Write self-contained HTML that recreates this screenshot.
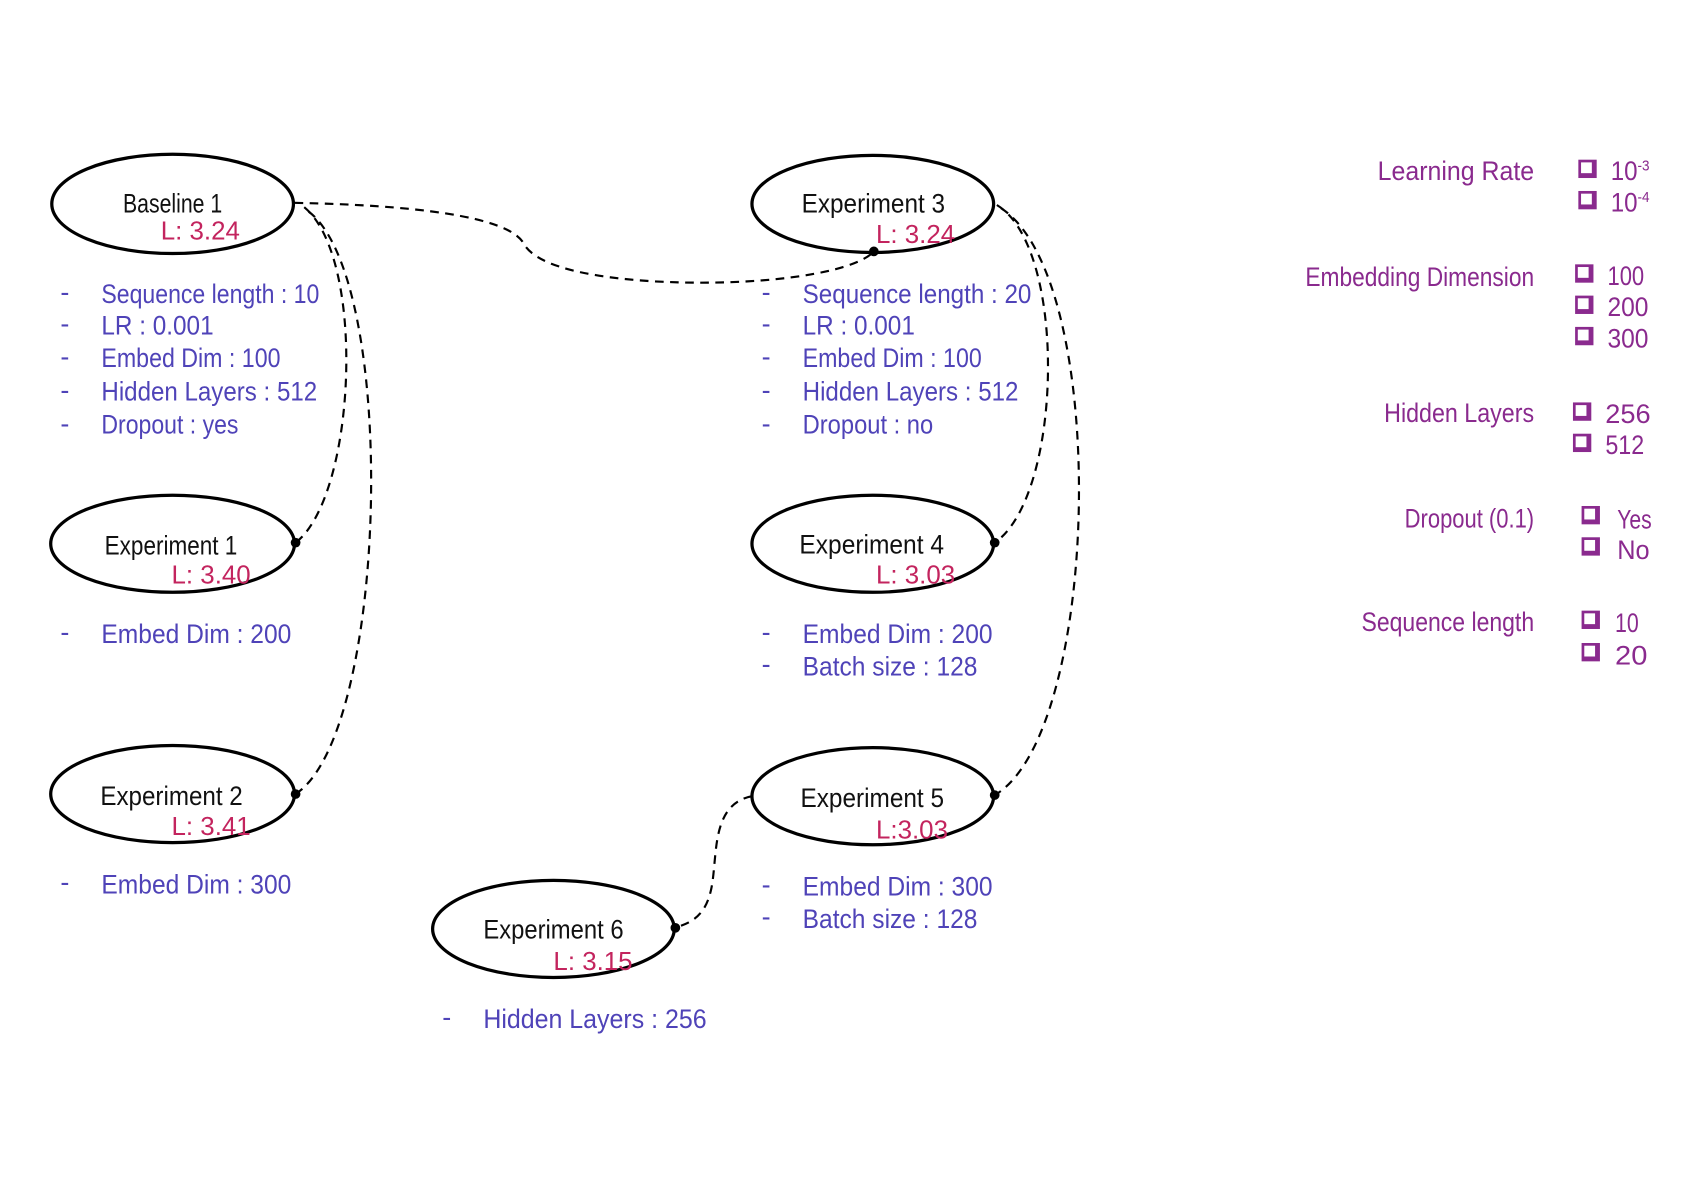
<!DOCTYPE html>
<html><head><meta charset="utf-8"><style>
html,body{margin:0;padding:0;background:#fff;width:1683px;height:1190px;overflow:hidden}
svg{display:block}
.h{font-family:"Liberation Sans Narrow","Liberation Sans",sans-serif;font-weight:300}
.n{fill:#111;font-size:25px}
.l{fill:#c3245e;font-size:24px;font-family:"Liberation Sans",sans-serif}
.b{fill:#4f43b8;font-size:25px}
.p{fill:#8a2a8e;font-size:25px}
.e{fill:none;stroke:#000;stroke-width:3}
.d{fill:none;stroke:#000;stroke-width:2;stroke-dasharray:8,6}
</style></head><body>
<svg width="1683" height="1190" viewBox="0 0 1560 1103" xmlns="http://www.w3.org/2000/svg">
<rect width="1560" height="1103" fill="#fff"/>
<path class="d" d="M273,188 C380,190 470,200 485,225 C500,255 590,262 650,262 C730,262 795,250 810,233"/>
<path class="d" d="M282,192 C340,240 330,460 274,503"/>
<path class="d" d="M286,196 C370,260 360,680 274,736"/>
<path class="d" d="M924,190 C990,230 985,460 922,503"/>
<path class="d" d="M928,193 C1030,260 1020,680 922,737"/>
<path class="d" d="M697,738 C660,745 665,790 660,820 C655,850 640,855 626,860"/>
<g fill="#000">
<circle cx="810" cy="233" r="4.5"/><circle cx="274" cy="503" r="4.5"/><circle cx="274" cy="736" r="4.5"/>
<circle cx="922" cy="503" r="4.5"/><circle cx="922" cy="737" r="4.5"/><circle cx="626" cy="860" r="4.5"/>
</g>
<ellipse class="e" cx="160" cy="189" rx="112" ry="46"/>
<ellipse class="e" cx="160" cy="504" rx="113" ry="45"/>
<ellipse class="e" cx="160" cy="736" rx="113" ry="45"/>
<ellipse class="e" cx="809" cy="189" rx="112" ry="45"/>
<ellipse class="e" cx="809" cy="504" rx="112" ry="45"/>
<ellipse class="e" cx="809" cy="738" rx="112" ry="45"/>
<ellipse class="e" cx="513" cy="861" rx="112" ry="45"/>
<g class="h n">
<text x="114" y="197" textLength="92" lengthAdjust="spacingAndGlyphs">Baseline 1</text>
<text x="97" y="514" textLength="123" lengthAdjust="spacingAndGlyphs">Experiment 1</text>
<text x="93" y="746" textLength="132" lengthAdjust="spacingAndGlyphs">Experiment 2</text>
<text x="743" y="197" textLength="133" lengthAdjust="spacingAndGlyphs">Experiment 3</text>
<text x="741" y="513" textLength="134" lengthAdjust="spacingAndGlyphs">Experiment 4</text>
<text x="742" y="748" textLength="133" lengthAdjust="spacingAndGlyphs">Experiment 5</text>
<text x="448" y="870" textLength="130" lengthAdjust="spacingAndGlyphs">Experiment 6</text>
</g>
<g class="l">
<text x="149" y="222">L: 3.24</text>
<text x="159" y="541">L: 3.40</text>
<text x="159" y="774">L: 3.41</text>
<text x="812" y="225">L: 3.24</text>
<text x="812" y="541">L: 3.03</text>
<text x="812" y="777">L:3.03</text>
<text x="513" y="899">L: 3.15</text>
</g>
<g class="h b">
<text x="56" y="279">-</text><text x="94" y="281" textLength="202" lengthAdjust="spacingAndGlyphs">Sequence length : 10</text>
<text x="56" y="308">-</text><text x="94" y="310" textLength="104" lengthAdjust="spacingAndGlyphs">LR : 0.001</text>
<text x="56" y="339">-</text><text x="94" y="340" textLength="166" lengthAdjust="spacingAndGlyphs">Embed Dim : 100</text>
<text x="56" y="370">-</text><text x="94" y="371" textLength="200" lengthAdjust="spacingAndGlyphs">Hidden Layers : 512</text>
<text x="56" y="401">-</text><text x="94" y="402" textLength="127" lengthAdjust="spacingAndGlyphs">Dropout : yes</text>
<text x="56" y="594">-</text><text x="94" y="596" textLength="176" lengthAdjust="spacingAndGlyphs">Embed Dim : 200</text>
<text x="56" y="826">-</text><text x="94" y="828" textLength="176" lengthAdjust="spacingAndGlyphs">Embed Dim : 300</text>
<text x="706" y="279">-</text><text x="744" y="281" textLength="212" lengthAdjust="spacingAndGlyphs">Sequence length : 20</text>
<text x="706" y="308">-</text><text x="744" y="310" textLength="104" lengthAdjust="spacingAndGlyphs">LR : 0.001</text>
<text x="706" y="339">-</text><text x="744" y="340" textLength="166" lengthAdjust="spacingAndGlyphs">Embed Dim : 100</text>
<text x="706" y="370">-</text><text x="744" y="371" textLength="200" lengthAdjust="spacingAndGlyphs">Hidden Layers : 512</text>
<text x="706" y="401">-</text><text x="744" y="402" textLength="121" lengthAdjust="spacingAndGlyphs">Dropout : no</text>
<text x="706" y="594">-</text><text x="744" y="596" textLength="176" lengthAdjust="spacingAndGlyphs">Embed Dim : 200</text>
<text x="706" y="624">-</text><text x="744" y="626" textLength="162" lengthAdjust="spacingAndGlyphs">Batch size : 128</text>
<text x="706" y="828">-</text><text x="744" y="830" textLength="176" lengthAdjust="spacingAndGlyphs">Embed Dim : 300</text>
<text x="706" y="858">-</text><text x="744" y="860" textLength="162" lengthAdjust="spacingAndGlyphs">Batch size : 128</text>
<text x="410" y="951">-</text><text x="448" y="953" textLength="207" lengthAdjust="spacingAndGlyphs">Hidden Layers : 256</text>
</g>
<g class="h p" text-anchor="end">
<text x="1422" y="167" textLength="145" lengthAdjust="spacingAndGlyphs">Learning Rate</text>
<text x="1422" y="265" textLength="212" lengthAdjust="spacingAndGlyphs">Embedding Dimension</text>
<text x="1422" y="391" textLength="139" lengthAdjust="spacingAndGlyphs">Hidden Layers</text>
<text x="1422" y="489" textLength="120" lengthAdjust="spacingAndGlyphs">Dropout (0.1)</text>
<text x="1422" y="585" textLength="160" lengthAdjust="spacingAndGlyphs">Sequence length</text>
</g>
<g class="h p" font-size="24">
<text x="1493" y="167" textLength="36" lengthAdjust="spacingAndGlyphs">10<tspan font-size="14" dy="-9">-3</tspan></text>
<text x="1493" y="196" textLength="36" lengthAdjust="spacingAndGlyphs">10<tspan font-size="14" dy="-9">-4</tspan></text>
<text x="1490" y="264" textLength="34" lengthAdjust="spacingAndGlyphs">100</text>
<text x="1490" y="293" textLength="38" lengthAdjust="spacingAndGlyphs">200</text>
<text x="1490" y="322" textLength="38" lengthAdjust="spacingAndGlyphs">300</text>
<text x="1488" y="392" textLength="42" lengthAdjust="spacingAndGlyphs">256</text>
<text x="1488" y="421" textLength="36" lengthAdjust="spacingAndGlyphs">512</text>
<text x="1499" y="490" textLength="32" lengthAdjust="spacingAndGlyphs">Yes</text>
<text x="1499" y="518" textLength="30" lengthAdjust="spacingAndGlyphs">No</text>
<text x="1497" y="586" textLength="22" lengthAdjust="spacingAndGlyphs">10</text>
<text x="1497" y="616" textLength="30" lengthAdjust="spacingAndGlyphs">20</text>
</g>
<g fill="#8a2a8e">
<g transform="translate(1463,148)"><rect width="17" height="17"/><rect x="2.5" y="2.5" width="10" height="10" fill="#fff"/></g>
<g transform="translate(1463,177)"><rect width="17" height="17"/><rect x="2.5" y="2.5" width="10" height="10" fill="#fff"/></g>
<g transform="translate(1460,245)"><rect width="17" height="17"/><rect x="2.5" y="2.5" width="10" height="10" fill="#fff"/></g>
<g transform="translate(1460,274)"><rect width="17" height="17"/><rect x="2.5" y="2.5" width="10" height="10" fill="#fff"/></g>
<g transform="translate(1460,303)"><rect width="17" height="17"/><rect x="2.5" y="2.5" width="10" height="10" fill="#fff"/></g>
<g transform="translate(1458,373)"><rect width="17" height="17"/><rect x="2.5" y="2.5" width="10" height="10" fill="#fff"/></g>
<g transform="translate(1458,402)"><rect width="17" height="17"/><rect x="2.5" y="2.5" width="10" height="10" fill="#fff"/></g>
<g transform="translate(1466,469)"><rect width="17" height="17"/><rect x="2.5" y="2.5" width="10" height="10" fill="#fff"/></g>
<g transform="translate(1466,498)"><rect width="17" height="17"/><rect x="2.5" y="2.5" width="10" height="10" fill="#fff"/></g>
<g transform="translate(1466,566)"><rect width="17" height="17"/><rect x="2.5" y="2.5" width="10" height="10" fill="#fff"/></g>
<g transform="translate(1466,596)"><rect width="17" height="17"/><rect x="2.5" y="2.5" width="10" height="10" fill="#fff"/></g>
</g>
</svg>
</body></html>
